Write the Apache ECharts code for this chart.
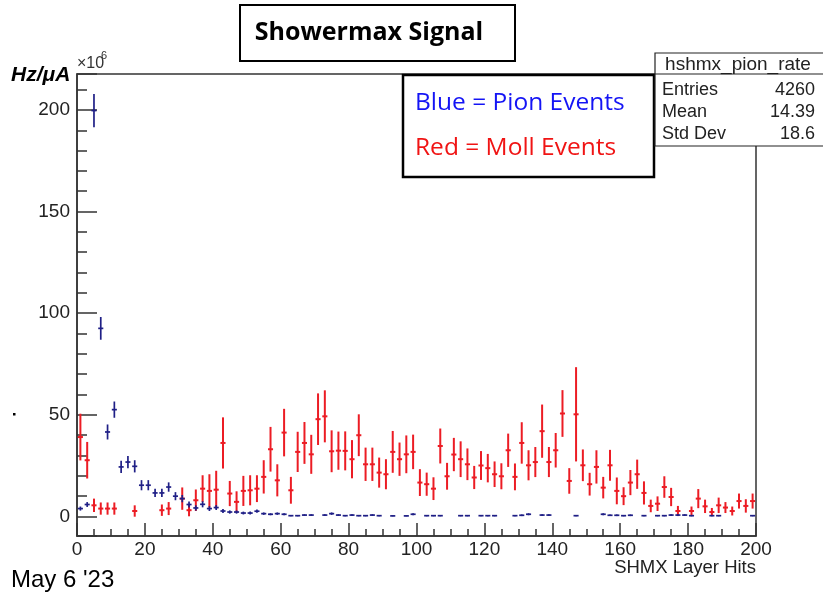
<!DOCTYPE html>
<html><head><meta charset="utf-8">
<script src="https://cdn.jsdelivr.net/npm/echarts/dist/echarts.min.js"></script>
<style>html,body{margin:0;padding:0;background:#fff}#c{width:823px;height:592px}</style>
</head><body><div id="c"></div>
<script>
// bin centres (SHMX Layer Hits, bin width 2)
const binCenters = [
  1,3,5,7,9,11,13,15,17,19, 21,23,25,27,29,31,33,35,37,39,
  41,43,45,47,49,51,53,55,57,59, 61,63,65,67,69,71,73,75,77,79,
  81,83,85,87,89,91,93,95,97,99, 101,103,105,107,109,111,113,115,117,119,
  121,123,125,127,129,131,133,135,137,139, 141,143,145,147,149,151,153,155,157,159,
  161,163,165,167,169,171,173,175,177,179, 181,183,185,187,189,191,193,195,197,199
];
// Blue = Pion events (Hz/uA x1e6)
const pionRate = [
  3.8,5.8,199.7,92.5,41.5,52.5,24.3,26.7,24.6,15.3,
  15.3,11.5,11.5,14.4,9.9,8.7,5.8,4.1,5.9,3.8,
  4.3,2.6,2.1,2.1,1.6,1.6,2.5,1.3,1.0,1.3,
  1.0,0.3,0.3,0.6,0.6,null,0.6,1.3,0.6,0.3,
  0.6,0.3,0.3,0.6,0.3,null,0.2,null,0.2,1.0,
  null,0.3,0.3,0.3,null,null,0.3,0.3,null,0.3,
  0.3,0.3,null,null,0.3,0.5,1.0,null,0.6,0.6,
  null,null,null,0.3,null,null,null,1.0,0.5,0.5,
  0.3,0.5,null,0.3,null,0.3,0.3,0.6,0.6,0.6,
  0.3,null,null,0.3,0.3,null,null,null,null,0.3
];
const pionErr = [
  1.0,1.2,8.2,5.6,3.7,4.0,3.0,3.0,3.0,2.5,
  2.5,2.0,2.0,2.3,2.0,1.8,1.5,1.3,1.5,1.2,
  1.2,1.0,0.8,0.8,0.7,0.7,0.8,0.6,0.5,0.6,
  0.5,0.3,0.3,0.4,0.4,0,0.4,0.6,0.4,0.3,
  0.4,0.3,0.3,0.4,0.3,0,0.2,0,0.2,0.5,
  0,0.3,0.3,0.3,0,0,0.3,0.3,0,0.3,
  0.3,0.3,0,0,0.3,0.4,0.5,0,0.4,0.4,
  0,0,0,0.3,0,0,0,0.5,0.4,0.4,
  0.3,0.4,0,0.3,0,0.3,0.3,0.4,0.4,0.4,
  0.3,0,0,0.3,0.3,0,0,0,0,0.3
];
// Red = Moll events
const mollRate = [
  39.0,27.6,5.4,3.8,3.8,3.8,null,null,2.6,null,
  null,null,3.0,3.8,null,8.7,3.0,7.9,13.6,12.5,
  13.1,36.1,11.2,7.1,12.5,12.8,13.6,19.4,33.0,17.7,
  41.2,12.8,31.7,36.1,30.5,47.8,49.2,32.0,32.3,32.2,
  28.1,39.9,25.6,25.6,21.5,20.7,31.7,28.1,30.5,31.7,
  16.6,15.8,13.6,34.6,19.7,30.4,28.1,25.6,19.1,25.0,
  23.7,20.7,19.7,32.5,19.4,36.1,25.1,26.7,41.9,26.7,
  32.5,50.6,17.4,50.2,25.1,15.8,24.3,14.1,25.1,12.5,
  9.9,16.6,20.7,11.5,5.1,6.2,14.4,9.5,2.6,null,
  2.6,8.7,4.9,2.1,5.4,4.3,2.6,7.5,5.1,7.5
];
const mollErr = [
  11.5,9.0,3.3,3.0,3.0,3.0,0,0,2.8,0,
  0,0,2.8,3.2,0,5.5,3.0,5.3,6.6,8.2,
  9.3,12.6,6.2,5.2,7.4,7.4,6.6,8.2,11.0,7.9,
  11.7,6.6,9.9,10.3,9.6,12.7,12.8,10.3,9.4,9.6,
  9.4,10.3,8.2,8.2,7.4,7.4,10.3,8.2,9.3,8.5,
  6.6,5.7,5.6,8.6,6.6,8.2,8.8,7.8,5.7,7.1,
  7.0,6.3,6.4,8.2,6.6,10.2,7.4,7.4,13.1,7.4,
  8.5,11.5,6.3,23.2,7.8,5.6,8.2,5.3,7.6,6.6,
  4.4,6.2,7.2,5.7,3.1,3.6,5.3,4.5,2.5,0,
  2.2,4.7,3.3,2.0,3.8,2.7,2.2,3.7,3.3,3.7
];
const statsLabels = ['Entries','Mean','Std Dev'];
const statsValues = ['4260','14.39','18.6'];

function toData(vals, errs) {
  const out = [];
  for (let i = 0; i < binCenters.length; i++) {
    if (vals[i] !== null) out.push([binCenters[i], vals[i], errs[i]]);
  }
  return out;
}
function makeRender(color, lw) {
  return function (params, api) {
    const x = api.value(0), y = api.value(1), e = api.value(2);
    const c = api.coord([x, y]);
    const t = api.coord([x, y + e]);
    const b = api.coord([x, y - e]);
    const l = api.coord([x - 0.75, y]);
    const r = api.coord([x + 0.75, y]);
    const ch = [{type:'line', shape:{x1:l[0], y1:c[1], x2:r[0], y2:c[1]}, style:{stroke:color, lineWidth:lw}}];
    if (e > 0) ch.push({type:'line', shape:{x1:t[0], y1:t[1], x2:b[0], y2:b[1]}, style:{stroke:color, lineWidth:lw}});
    return {type:'group', children: ch};
  };
}

const FONT = '"Liberation Sans", Arial, sans-serif';
const chart = echarts.init(document.getElementById('c'), null, {renderer:'canvas'});
chart.setOption({
  animation: false,
  backgroundColor: '#fff',
  grid: {left:77, right:67, top:74, bottom:56, show:true, borderColor:'#333', borderWidth:1.5, backgroundColor:'transparent'},
  xAxis: {
    type:'value', min:0, max:200, interval:20,
    axisLine:{show:true, onZero:false, lineStyle:{color:'#333', width:1.5}},
    axisTick:{show:true, inside:true, length:13, lineStyle:{color:'#333', width:1.5}},
    minorTick:{show:true, splitNumber:4, length:7, lineStyle:{color:'#333', width:1.5}},
    axisLabel:{fontSize:19, color:'#222', margin:4, fontFamily:FONT},
    splitLine:{show:false}
  },
  yAxis: {
    type:'value', min:-9.7, max:217.7, splitNumber:5,
    axisLine:{show:true, onZero:false, lineStyle:{color:'#333', width:1.5}},
    axisTick:{show:true, inside:true, length:20, lineStyle:{color:'#333', width:1.5}},
    minorTick:{show:true, splitNumber:5, length:10, lineStyle:{color:'#333', width:1.5}},
    axisLabel:{showMinLabel:false, showMaxLabel:false, fontSize:19, color:'#222', margin:7, fontFamily:FONT},
    splitLine:{show:false}
  },
  series: [
    {type:'custom', name:'Moll', renderItem:makeRender('#ec1c24', 2), data:toData(mollRate, mollErr), encode:{x:0, y:1}, clip:true, z:3},
    {type:'custom', name:'Pion', renderItem:makeRender('#1f1f86', 1.7), data:toData(pionRate, pionErr), encode:{x:0, y:1}, clip:true, z:4}
  ],
  graphic: [
    // title box
    {type:'rect', shape:{x:240, y:5, width:275, height:56}, style:{fill:'#fff', stroke:'#000', lineWidth:2}, z:10},
    {type:'text', x:369, y:33, style:{text:'Showermax Signal', font:'bold 25px "Open Sans", sans-serif', fill:'#000', textAlign:'center', textVerticalAlign:'middle'}, z:11},
    // legend box
    {type:'rect', shape:{x:403, y:75, width:251, height:102}, style:{fill:'#fff', stroke:'#000', lineWidth:2.5}, z:10},
    {type:'text', x:415, y:103, style:{text:'Blue = Pion Events', font:'24.5px "Open Sans", sans-serif', fill:'#1414f5', textVerticalAlign:'middle'}, z:11},
    {type:'text', x:415, y:148, style:{text:'Red = Moll Events', font:'24.5px "Open Sans", sans-serif', fill:'#f01414', textVerticalAlign:'middle'}, z:11},
    // stats box
    {type:'rect', shape:{x:655, y:53, width:175, height:93}, style:{fill:'#fff', stroke:'#222', lineWidth:1.2}, z:10},
    {type:'line', shape:{x1:655, y1:74, x2:823, y2:74}, style:{stroke:'#222', lineWidth:1.2}, z:11},
    {type:'text', x:738, y:65, style:{text:'hshmx_pion_rate', font:'19px '+FONT, fill:'#222', textAlign:'center', textVerticalAlign:'middle'}, z:11},
    {type:'text', x:662, y:90, style:{text:statsLabels[0], font:'18px '+FONT, fill:'#222', textVerticalAlign:'middle'}, z:11},
    {type:'text', x:815, y:90, style:{text:statsValues[0], font:'18px '+FONT, fill:'#222', textAlign:'right', textVerticalAlign:'middle'}, z:11},
    {type:'text', x:662, y:112, style:{text:statsLabels[1], font:'18px '+FONT, fill:'#222', textVerticalAlign:'middle'}, z:11},
    {type:'text', x:815, y:112, style:{text:statsValues[1], font:'18px '+FONT, fill:'#222', textAlign:'right', textVerticalAlign:'middle'}, z:11},
    {type:'text', x:662, y:134, style:{text:statsLabels[2], font:'18px '+FONT, fill:'#222', textVerticalAlign:'middle'}, z:11},
    {type:'text', x:815, y:134, style:{text:statsValues[2], font:'18px '+FONT, fill:'#222', textAlign:'right', textVerticalAlign:'middle'}, z:11},
    // axis titles
    {type:'text', x:11, y:75, style:{text:'Hz/μA', font:'italic bold 21px '+FONT, fill:'#000', textVerticalAlign:'middle'}, z:11},
    {type:'text', x:77, y:64, style:{text:'×10', font:'16px '+FONT, fill:'#333', textVerticalAlign:'middle'}, z:11},
    {type:'text', x:101, y:56, style:{text:'6', font:'11px '+FONT, fill:'#333', textVerticalAlign:'middle'}, z:11},
    {type:'text', x:756, y:568, style:{text:'SHMX Layer Hits', font:'18.5px '+FONT, fill:'#222', textAlign:'right', textVerticalAlign:'middle'}, z:11},
    {type:'text', x:11, y:580, style:{text:"May 6 '23", font:'24px '+FONT, fill:'#000', textVerticalAlign:'middle'}, z:11},
    {type:'rect', shape:{x:13, y:413, width:2.5, height:2.5}, style:{fill:'#000'}, z:11}
  ]
});
</script></body></html>
